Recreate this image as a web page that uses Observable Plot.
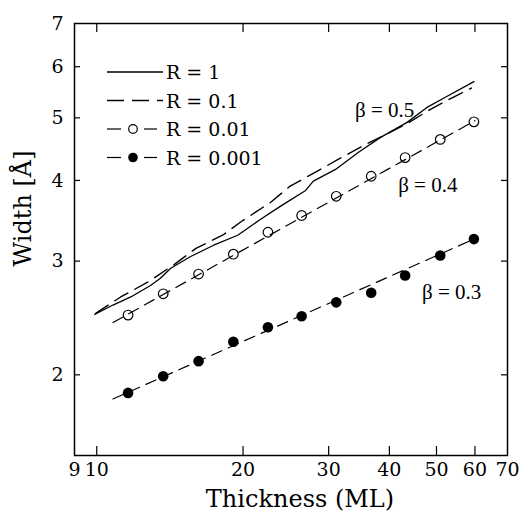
<!DOCTYPE html>
<html>
<head>
<meta charset="utf-8">
<script src="https://cdn.jsdelivr.net/npm/d3@7"></script>
<script src="https://cdn.jsdelivr.net/npm/@observablehq/plot@0.6"></script>
<style>
  html, body { margin: 0; padding: 0; background: #fff; }
  #chart { width: 521px; height: 512px; }
</style>
</head>
<body>
<div id="chart"></div>
<script>
// ---- Data ----
// R = 1 (solid curve)
const thickR1 = [9.9, 10.8, 11.75, 12.9, 13.5, 14.2, 15.6, 17.4, 19.5, 21.7, 23.9, 26.9, 27.9, 31.0, 34.5, 38.3, 43.5, 47.8, 52.6, 59.7];
const widthR1 = [2.48, 2.565, 2.64, 2.75, 2.82, 2.925, 3.05, 3.175, 3.29, 3.48, 3.65, 3.86, 3.99, 4.16, 4.42, 4.66, 4.92, 5.19, 5.40, 5.69];
// R = 0.1 (long-dashed curve)
const thickR01 = [9.95, 11.2, 12.7, 14.4, 16.0, 18.15, 20.0, 22.8, 25.0, 28.2, 31.7, 36.0, 40.2, 43.5, 48.5, 54.1, 59.0];
const widthR01 = [2.49, 2.64, 2.78, 2.96, 3.14, 3.29, 3.47, 3.70, 3.92, 4.12, 4.33, 4.56, 4.75, 4.90, 5.15, 5.38, 5.56];
// R = 0.01 (open circles) and R = 0.001 (filled circles)
const thickPts = [11.6, 13.7, 16.2, 19.1, 22.5, 26.4, 31.1, 36.7, 43.1, 50.9, 59.7];
const widthR001 = [2.475, 2.67, 2.865, 3.075, 3.325, 3.53, 3.78, 4.06, 4.34, 4.63, 4.93];
const widthR0001 = [1.875, 1.99, 2.10, 2.25, 2.37, 2.465, 2.59, 2.68, 2.85, 3.06, 3.245];
// Power-law fit lines (end points)
const thickFit = [10.8, 60];
const widthFitR001 = [2.41, 4.95];
const widthFitR0001 = [1.835, 3.25];
// Annotations
const betaText = ["\u03b2 = 0.5", "\u03b2 = 0.4", "\u03b2 = 0.3"];
const betaThick = [34.0, 41.7, 46.7];
const betaWidth = [5.13, 3.93, 2.68];
// Axes
const xTickLabels = [9, 10, 20, 30, 40, 50, 60, 70];
const xInnerTicks = [10, 20, 30, 40, 50, 60];
const yTickLabels = [2, 3, 4, 5, 6, 7];
const yInnerTicks = [2, 3, 4, 5, 6];
const xLabel = "Thickness (ML)";
const yLabel = "Width [\u00c5]";
const legendLabels = ["R = 1", "R = 0.1", "R = 0.01", "R = 0.001"];

// ---- Build tables ----
const r1 = thickR1.map((x, i) => ({x, y: widthR1[i]}));
const r01 = thickR01.map((x, i) => ({x, y: widthR01[i]}));
const r001 = thickPts.map((x, i) => ({x, y: widthR001[i]}));
const r0001 = thickPts.map((x, i) => ({x, y: widthR0001[i]}));
const fit001 = thickFit.map((x, i) => ({x, y: widthFitR001[i]}));
const fit0001 = thickFit.map((x, i) => ({x, y: widthFitR0001[i]}));
const betas = betaText.map((t, i) => ({t, x: betaThick[i], y: betaWidth[i]}));

const W = 521, H = 512;
const mL = 74, mR = 14, mT = 23, mB = 57;
const fw = W - mL - mR, fh = H - mT - mB;
const serif = "'DejaVu Serif', serif";
const times = "'Liberation Serif', serif";

const chart = Plot.plot({
  width: W, height: H,
  marginLeft: mL, marginRight: mR, marginTop: mT, marginBottom: mB,
  style: {fontFamily: serif, fontSize: "18px", color: "black", background: "white"},
  x: {type: "log", domain: [9, 70]},
  y: {type: "log", domain: [1.5, 7]},
  marks: [
    Plot.axisX({ticks: xTickLabels, tickSize: 0, tickPadding: 7, tickFormat: d => String(d), label: null, fontSize: 19, fontFamily: serif, fill: "black"}),
    Plot.axisY({ticks: yTickLabels, tickSize: 0, tickPadding: 11, tickFormat: d => String(d), label: null, fontSize: 19, fontFamily: serif, fill: "black"}),
    Plot.tickX(xInnerTicks, {insetTop: fh - 9, stroke: "black", strokeWidth: 1.2}),
    Plot.tickX(xInnerTicks, {insetBottom: fh - 9, stroke: "black", strokeWidth: 1.2}),
    Plot.tickY(yInnerTicks, {insetRight: fw - 6, stroke: "black", strokeWidth: 1.2}),
    Plot.tickY(yInnerTicks, {insetLeft: fw - 6, stroke: "black", strokeWidth: 1.2}),
    Plot.line(r1, {x: "x", y: "y", stroke: "black", strokeWidth: 1.3}),
    Plot.line(r01, {x: "x", y: "y", stroke: "black", strokeWidth: 1.4, strokeDasharray: "15,8"}),
    Plot.line(fit001, {x: "x", y: "y", stroke: "black", strokeWidth: 1.2, strokeDasharray: "11,7"}),
    Plot.line(fit0001, {x: "x", y: "y", stroke: "black", strokeWidth: 1.2, strokeDasharray: "11,7"}),
    Plot.dot(r001, {x: "x", y: "y", r: 4.8, stroke: "black", strokeWidth: 1.2, fill: "none"}),
    Plot.dot(r0001, {x: "x", y: "y", r: 5.3, fill: "black", stroke: "none"}),
    Plot.text(betas, {x: "x", y: "y", text: "t", textAnchor: "start", fontFamily: times, fontSize: 21, fill: "black"}),
    Plot.text([yLabel], {frameAnchor: "left", dx: -51, dy: -31, rotate: -90, textAnchor: "middle", lineAnchor: "middle", fontFamily: serif, fontSize: 24, fill: "black"}),
    Plot.text([xLabel], {frameAnchor: "bottom", dx: 9, dy: 44, textAnchor: "middle", lineAnchor: "middle", fontFamily: serif, fontSize: 24, fill: "black"}),
    Plot.frame({stroke: "black", strokeWidth: 1.5})
  ]
});
document.getElementById("chart").appendChild(chart);

// ---- Legend (decoration, drawn in frame pixel space) ----
const svg = d3.select(chart);
const lg = svg.append("g").attr("stroke", "black").attr("fill", "none");
const rowsY = [72, 100.5, 129, 157.5];
const x0 = 107, x1 = 163, xt = 166;
// R = 1
lg.append("line").attr("x1", x0).attr("x2", x1).attr("y1", rowsY[0]).attr("y2", rowsY[0]).attr("stroke-width", 1.3);
// R = 0.1
lg.append("line").attr("x1", x0).attr("x2", x1).attr("y1", rowsY[1]).attr("y2", rowsY[1]).attr("stroke-width", 1.4).attr("stroke-dasharray", "17,8");
// R = 0.01 and R = 0.001
[2, 3].forEach(k => {
  const y = rowsY[k];
  lg.append("line").attr("x1", x0).attr("x2", x0 + 14).attr("y1", y).attr("y2", y).attr("stroke-width", 1.2);
  lg.append("line").attr("x1", x0 + 37).attr("x2", x0 + 50).attr("y1", y).attr("y2", y).attr("stroke-width", 1.2);
  lg.append("circle").attr("cx", x0 + 26).attr("cy", y).attr("r", k === 2 ? 4.3 : 4.8)
    .attr("fill", k === 2 ? "none" : "black").attr("stroke-width", k === 2 ? 1.2 : 0);
});
const lt = svg.append("g").attr("fill", "black").attr("font-family", serif).attr("font-size", 19).attr("text-anchor", "start");
legendLabels.forEach((t, i) => {
  lt.append("text").attr("x", xt).attr("y", rowsY[i] + 7).text(t);
});
</script>
</body>
</html>
